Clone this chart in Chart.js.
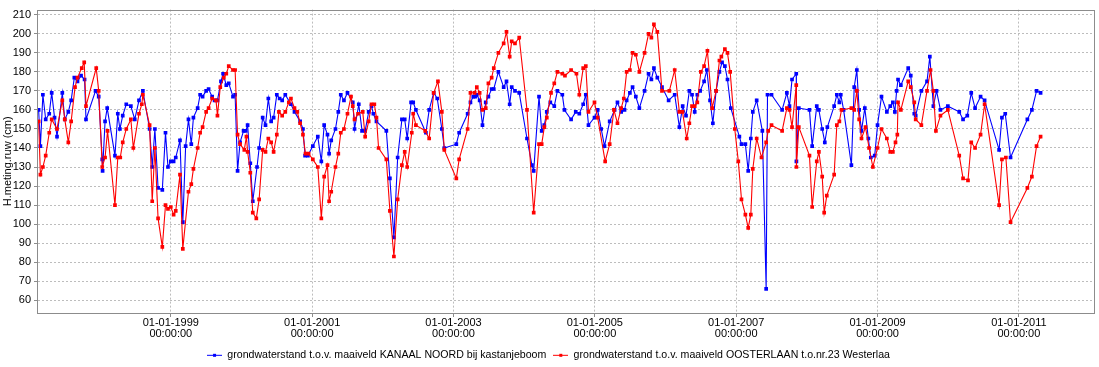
<!DOCTYPE html>
<html>
<head>
<meta charset="utf-8">
<script src="https://cdn.jsdelivr.net/npm/chart.js@4/dist/chart.umd.min.js"></script>
<style>
  html, body { margin: 0; padding: 0; background: #fff; }
  #wrap { width: 1099px; height: 367px; }
</style>
</head>
<body>
<div id="wrap"><canvas id="grondwaterChart" width="1099" height="367"></canvas></div>
<script>
// x = decimal year, y = cm
const tickYears = [1999, 2001, 2003, 2005, 2007, 2009, 2011];
const yTicks = [60, 70, 80, 90, 100, 110, 120, 130, 140, 150, 160, 170, 180, 190, 200, 210];

const seriesNames = [
  'grondwaterstand t.o.v. maaiveld KANAAL NOORD bij kastanjeboom',
  'grondwaterstand t.o.v. maaiveld OOSTERLAAN t.o.nr.23 Westerlaa'
];

const blueX = [
  1997.13, 1997.155, 1997.19, 1997.23, 1997.28, 1997.315, 1997.355, 1997.39, 1997.465, 1997.50,
  1997.55, 1997.59, 1997.635, 1997.68, 1997.73, 1997.78, 1997.80, 1997.935, 1997.98, 1998.03,
  1998.035, 1998.07, 1998.10, 1998.21, 1998.25, 1998.28, 1998.32, 1998.37, 1998.435, 1998.49,
  1998.55, 1998.605, 1998.70, 1998.737, 1998.775, 1998.82, 1998.88, 1998.925, 1998.96, 1999.00,
  1999.04, 1999.07, 1999.13, 1999.17, 1999.21, 1999.25, 1999.29, 1999.32, 1999.38, 1999.415,
  1999.45, 1999.50, 1999.535, 1999.585, 1999.62, 1999.66, 1999.71, 1999.74, 1999.785, 1999.82,
  1999.88, 1999.91, 1999.945, 1999.98, 2000.03, 2000.06, 2000.087, 2000.125, 2000.16, 2000.22,
  2000.25, 2000.30, 2000.34, 2000.38, 2000.42, 2000.455, 2000.50, 2000.54, 2000.576, 2000.62,
  2000.70, 2000.75, 2000.83, 2000.87, 2000.90, 2000.94, 2001.01, 2001.08, 2001.13, 2001.17,
  2001.217, 2001.24, 2001.27, 2001.33, 2001.37, 2001.405, 2001.45, 2001.50, 2001.575, 2001.60,
  2001.66, 2001.706, 2001.75, 2001.80, 2001.84, 2001.866, 2001.91, 2002.05, 2002.10, 2002.157,
  2002.21, 2002.27, 2002.31, 2002.345, 2002.40, 2002.43, 2002.468, 2002.61, 2002.656, 2002.72,
  2002.77, 2002.835, 2002.87, 2003.04, 2003.08, 2003.20, 2003.24, 2003.28, 2003.306, 2003.33,
  2003.37, 2003.41, 2003.456, 2003.494, 2003.54, 2003.57, 2003.635, 2003.71, 2003.75, 2003.795,
  2003.824, 2003.87, 2003.93, 2004.04, 2004.11, 2004.135, 2004.21, 2004.248, 2004.285, 2004.32,
  2004.37, 2004.426, 2004.47, 2004.54, 2004.57, 2004.664, 2004.73, 2004.78, 2004.835, 2004.872,
  2004.91, 2004.995, 2005.04, 2005.09, 2005.137, 2005.21, 2005.28, 2005.32, 2005.373, 2005.42,
  2005.45, 2005.496, 2005.534, 2005.58, 2005.63, 2005.704, 2005.76, 2005.80, 2005.836, 2005.884,
  2005.95, 2006.044, 2006.13, 2006.196, 2006.243, 2006.29, 2006.337, 2006.375, 2006.413, 2006.45,
  2006.49, 2006.546, 2006.585, 2006.63, 2006.67, 2006.716, 2006.763, 2006.80, 2006.84, 2006.877,
  2006.924, 2007.045, 2007.075, 2007.13, 2007.17, 2007.207, 2007.235, 2007.29, 2007.37, 2007.424,
  2007.443, 2007.50, 2007.65, 2007.717, 2007.754, 2007.79, 2007.85, 2007.852, 2007.886, 2008.037,
  2008.075, 2008.14, 2008.17, 2008.217, 2008.254, 2008.29, 2008.386, 2008.424, 2008.46, 2008.48,
  2008.52, 2008.63, 2008.67, 2008.707, 2008.74, 2008.773, 2008.82, 2008.87, 2008.905, 2008.96,
  2009.00, 2009.056, 2009.132, 2009.18, 2009.217, 2009.245, 2009.27, 2009.29, 2009.33, 2009.434,
  2009.47, 2009.52, 2009.54, 2009.62, 2009.70, 2009.74, 2009.79, 2009.835, 2009.89, 2009.995,
  2010.156, 2010.21, 2010.27, 2010.326, 2010.38, 2010.458, 2010.515, 2010.72, 2010.76, 2010.807,
  2010.882, 2011.12, 2011.184, 2011.25, 2011.307
];
const blueY = [
  160, 141, 168, 155, 158, 169, 156, 146, 169, 155,
  159, 165, 177, 175, 178, 176, 155, 170, 167, 134,
  128, 154, 161, 136, 158, 150, 157, 163, 162, 155,
  165, 170, 150, 130, 150, 119, 118, 148, 130, 133,
  133, 135, 144, 101, 141, 155, 142, 156, 161, 168,
  167, 170, 171, 167, 165, 165, 175, 179, 173, 174,
  167, 168, 128, 143, 149, 149, 152, 132, 112, 130,
  140, 156, 152, 166, 154, 156, 168, 166, 165, 168,
  163, 159, 154, 150, 136, 136, 141, 146, 133, 152,
  147, 137, 144, 150, 159, 168, 165, 169, 164, 150,
  163, 149, 149, 159, 162, 158, 154, 149, 124, 93,
  135, 155, 155, 145, 164, 164, 160, 148, 160, 169,
  166, 150, 140, 142, 148, 158, 164, 167, 167, 168,
  165, 152, 164, 167, 171, 171, 180, 172, 175, 163,
  172, 170, 169, 145, 131, 128, 167, 149, 152, 159,
  164, 162, 170, 168, 160, 155, 159, 158, 163, 168,
  152, 156, 160, 150, 141, 154, 160, 164, 159, 160,
  165, 169, 172, 167, 161, 170, 179, 176, 182, 177,
  172, 165, 168, 151, 162, 157, 170, 168, 159, 168,
  170, 175, 181, 165, 153, 170, 180, 185, 183, 176,
  161, 146, 142, 142, 128, 145, 159, 165, 149, 66,
  168, 168, 160, 169, 162, 176, 179, 133, 161, 160,
  141, 162, 160, 150, 143, 151, 162, 168, 164, 168,
  160, 131, 172, 181, 160, 149, 161, 145, 135, 136,
  152, 167, 159, 162, 164, 159, 170, 176, 173, 182,
  178, 158, 157, 170, 175, 188, 162, 170, 160, 162,
  159, 155, 157, 169, 161, 167, 165, 139, 156, 158,
  135, 155, 160, 170, 169
];

const redX = [
  1997.13, 1997.155, 1997.19, 1997.23, 1997.28, 1997.315, 1997.39, 1997.465, 1997.50, 1997.55,
  1997.59, 1997.645, 1997.68, 1997.74, 1997.775, 1997.80, 1997.945, 1997.98, 1998.03, 1998.07,
  1998.105, 1998.21, 1998.25, 1998.285, 1998.32, 1998.37, 1998.435, 1998.47, 1998.55, 1998.59,
  1998.605, 1998.70, 1998.737, 1998.775, 1998.82, 1998.88, 1998.925, 1998.96, 1999.00, 1999.04,
  1999.07, 1999.13, 1999.17, 1999.25, 1999.29, 1999.32, 1999.38, 1999.415, 1999.45, 1999.50,
  1999.535, 1999.585, 1999.64, 1999.66, 1999.70, 1999.75, 1999.785, 1999.82, 1999.88, 1999.91,
  1999.945, 1999.98, 2000.04, 2000.07, 2000.087, 2000.125, 2000.16, 2000.21, 2000.25, 2000.30,
  2000.34, 2000.38, 2000.42, 2000.455, 2000.50, 2000.53, 2000.576, 2000.62, 2000.67, 2000.70,
  2000.75, 2000.79, 2000.83, 2000.87, 2000.906, 2000.95, 2001.01, 2001.08, 2001.13, 2001.17,
  2001.217, 2001.24, 2001.27, 2001.33, 2001.37, 2001.405, 2001.45, 2001.50, 2001.55, 2001.575,
  2001.60, 2001.65, 2001.716, 2001.75, 2001.80, 2001.84, 2001.88, 2001.91, 2001.94, 2002.05,
  2002.10, 2002.157, 2002.21, 2002.27, 2002.31, 2002.345, 2002.41, 2002.43, 2002.468, 2002.60,
  2002.656, 2002.72, 2002.78, 2002.835, 2002.87, 2003.04, 2003.08, 2003.20, 2003.24, 2003.30,
  2003.33, 2003.37, 2003.41, 2003.456, 2003.494, 2003.54, 2003.57, 2003.635, 2003.71, 2003.75,
  2003.795, 2003.824, 2003.87, 2003.93, 2004.04, 2004.135, 2004.21, 2004.248, 2004.285, 2004.32,
  2004.38, 2004.426, 2004.47, 2004.54, 2004.577, 2004.664, 2004.74, 2004.78, 2004.835, 2004.872,
  2004.91, 2004.995, 2005.04, 2005.146, 2005.21, 2005.27, 2005.32, 2005.373, 2005.41, 2005.45,
  2005.496, 2005.534, 2005.58, 2005.63, 2005.704, 2005.76, 2005.80, 2005.836, 2005.884, 2005.95,
  2006.054, 2006.13, 2006.196, 2006.24, 2006.30, 2006.337, 2006.375, 2006.413, 2006.45, 2006.50,
  2006.546, 2006.593, 2006.66, 2006.716, 2006.763, 2006.79, 2006.84, 2006.877, 2006.915, 2006.98,
  2007.03, 2007.075, 2007.13, 2007.17, 2007.207, 2007.235, 2007.29, 2007.358, 2007.424, 2007.453,
  2007.50, 2007.65, 2007.717, 2007.754, 2007.79, 2007.85, 2007.852, 2007.886, 2008.037, 2008.075,
  2008.14, 2008.17, 2008.217, 2008.245, 2008.282, 2008.386, 2008.424, 2008.46, 2008.49, 2008.63,
  2008.67, 2008.707, 2008.74, 2008.773, 2008.83, 2008.88, 2008.934, 2009.00, 2009.056, 2009.132,
  2009.18, 2009.217, 2009.254, 2009.28, 2009.29, 2009.33, 2009.434, 2009.47, 2009.52, 2009.54,
  2009.62, 2009.70, 2009.75, 2009.79, 2009.826, 2009.89, 2009.995, 2010.156, 2010.21, 2010.28,
  2010.326, 2010.38, 2010.458, 2010.515, 2010.72, 2010.76, 2010.816, 2010.882, 2011.12, 2011.184,
  2011.25, 2011.307
];
const redY = [
  154, 126, 130, 136, 148, 155, 150, 165, 155, 143,
  154, 172, 177, 182, 185, 162, 182, 170, 130, 135,
  149, 110, 135, 135, 143, 150, 155, 140, 158, 163,
  168, 152, 112, 140, 103, 88, 110, 108, 109, 105,
  107, 126, 87, 117, 121, 129, 140, 148, 151, 159,
  161, 166, 165, 157, 172, 177, 179, 183, 181, 181,
  147, 142, 139, 146, 138, 127, 106, 103, 113, 139,
  138, 145, 143, 138, 147, 159, 157, 159, 164, 166,
  161, 159, 153, 147, 137, 137, 134, 130, 103, 125,
  131, 112, 117, 130, 137, 148, 150, 158, 167, 162,
  155, 158, 159, 146, 154, 163, 163, 156, 140, 134,
  107, 83, 113, 131, 138, 130, 148, 158, 152, 149,
  145, 169, 175, 159, 139, 124, 134, 150, 169, 169,
  172, 169, 160, 161, 174, 177, 182, 190, 195, 201,
  188, 196, 195, 198, 160, 106, 142, 142, 151, 156,
  169, 174, 180, 179, 178, 181, 179, 168, 182, 183,
  159, 164, 156, 133, 142, 160, 153, 161, 166, 180,
  181, 190, 189, 180, 190, 200, 198, 205, 201, 170,
  170, 181, 159, 159, 145, 153, 162, 162, 164, 180,
  183, 191, 161, 170, 186, 188, 192, 190, 180, 150,
  133, 113, 105, 98, 105, 129, 145, 135, 143, 149,
  152, 149, 161, 160, 151, 173, 130, 151, 136, 109,
  133, 138, 125, 106, 115, 126, 152, 154, 160, 161,
  160, 170, 155, 145, 151, 140, 130, 140, 150, 145,
  138, 138, 143, 147, 164, 160, 175, 172, 164, 155,
  152, 170, 181, 170, 149, 157, 160, 136, 124, 123,
  143, 140, 147, 163, 110, 134, 135, 101, 119, 125,
  141, 146
];

const toPoints = (xs, ys) => xs.map((x, i) => ({ x, y: ys[i] }));

// little "line with dot" symbols for the legend
function legendIcon(color) {
  const c = document.createElement('canvas');
  c.width = 15; c.height = 7;
  const g = c.getContext('2d');
  g.strokeStyle = color;
  g.lineWidth = 1;
  g.beginPath(); g.moveTo(0, 3.5); g.lineTo(15, 3.5); g.stroke();
  g.fillStyle = color;
  g.fillRect(6, 2, 3, 3);
  return c;
}
const legendIcons = [legendIcon('#0000ff'), legendIcon('#ff0000')];

// grey frame round the plot area
const plotFrame = {
  id: 'plotFrame',
  afterDatasetsDraw(chart) {
    const { ctx, chartArea: a } = chart;
    ctx.save();
    ctx.strokeStyle = '#8c8c8c';
    ctx.lineWidth = 1;
    ctx.strokeRect(Math.round(a.left) - 0.5, Math.round(a.top) + 0.5,
      Math.round(a.right - a.left), Math.round(a.bottom - a.top));
    ctx.restore();
  }
};

// fixed legend height so the plot area lands where the original has it
const legendHeight = {
  id: 'legendHeight',
  beforeInit(chart) {
    const fit = chart.legend.fit;
    chart.legend.fit = function () {
      fit.call(this);
      this.height = 24;
    };
  }
};

const FONT = "'Liberation Sans', Arial, sans-serif";

new Chart(document.getElementById('grondwaterChart'), {
  type: 'line',
  data: {
    datasets: [
      {
        label: seriesNames[0],
        data: toPoints(blueX, blueY),
        borderColor: '#0000ff',
        backgroundColor: '#0000ff',
        borderWidth: 1.1,
        pointStyle: 'rect',
        pointRadius: 2.6,
        pointBorderWidth: 0,
        tension: 0,
        order: 2
      },
      {
        label: seriesNames[1],
        data: toPoints(redX, redY),
        borderColor: '#ff0000',
        backgroundColor: '#ff0000',
        borderWidth: 1.1,
        pointStyle: 'rect',
        pointRadius: 2.6,
        pointBorderWidth: 0,
        tension: 0,
        order: 1
      }
    ]
  },
  options: {
    responsive: false,
    animation: false,
    devicePixelRatio: 1,
    layout: { padding: { top: 4, right: 2, left: 0, bottom: 0 } },
    plugins: {
      tooltip: { enabled: false },
      legend: {
        position: 'bottom',
        labels: {
          font: { family: FONT, size: 10.6, lineHeight: 1 },
          color: '#000',
          usePointStyle: true,
          pointStyleWidth: 15,
          boxHeight: 7,
          padding: 7,
          sort: (a, b) => a.datasetIndex - b.datasetIndex,
          generateLabels(chart) {
            const items = Chart.defaults.plugins.legend.labels.generateLabels(chart);
            items.forEach(it => { it.pointStyle = legendIcons[it.datasetIndex]; });
            return items;
          }
        }
      }
    },
    scales: {
      x: {
        type: 'linear',
        min: 1997.121,
        max: 2012.077,
        afterBuildTicks: axis => { axis.ticks = tickYears.map(v => ({ value: v })); },
        afterFit: axis => { axis.height = 30; },
        ticks: {
          autoSkip: false,
          maxRotation: 0,
          padding: 0,
          color: '#000',
          font: { family: FONT, size: 11, lineHeight: 1 },
          callback: v => ['01-01-' + v, '00:00:00']
        },
        grid: {
          color: '#bdbdbd',
          tickColor: '#8c8c8c',
          tickLength: 4,
          tickBorderDash: []
        },
        border: { display: false, dash: [2, 2] }
      },
      y: {
        type: 'linear',
        min: 53.29,
        max: 212.73,
        afterBuildTicks: axis => { axis.ticks = yTicks.map(v => ({ value: v })); },
        afterFit: axis => { axis.width = 38; },
        ticks: {
          padding: 3,
          color: '#000',
          font: { family: FONT, size: 11 }
        },
        grid: {
          color: '#bdbdbd',
          tickColor: '#8c8c8c',
          tickLength: 4,
          tickBorderDash: []
        },
        border: { display: false, dash: [2, 2] },
        title: {
          display: true,
          text: 'H.meting.ruw (cm)',
          color: '#000',
          font: { family: FONT, size: 11 },
          padding: { top: 1, bottom: 0 }
        }
      }
    }
  },
  plugins: [plotFrame, legendHeight]
});
</script>
</body>
</html>
